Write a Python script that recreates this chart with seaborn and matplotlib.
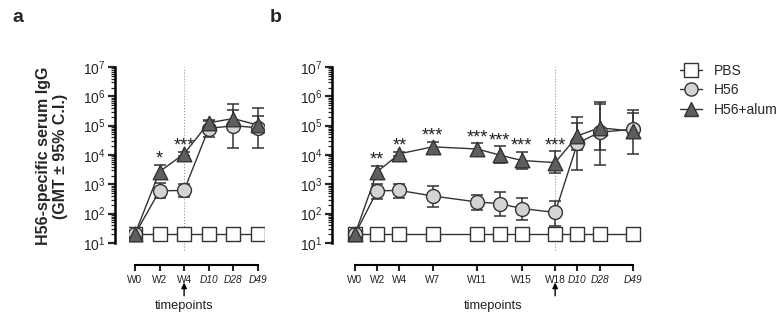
import numpy as np
import pandas as pd
import matplotlib
matplotlib.use("Agg")
import matplotlib.pyplot as plt
import matplotlib.transforms as mtrans
from matplotlib.lines import Line2D
from matplotlib.ticker import LogLocator, NullFormatter
import seaborn as sns

sns.set_theme(style="ticks")
plt.rcParams['font.family'] = ['Liberation Sans', 'DejaVu Sans']

# ---------------- data ----------------
groups = ['PBS', 'H56', 'H56+alum']

# panel a
a_x = [0, 2, 4, 6, 8, 10]
a_labels = ['W0', 'W2', 'W4', 'D10', 'D28', 'D49']
a_pbs = [20, 20, 20, 20, 20, 20]
a_h56 = [20, 600, 620, 80000, 100000, 85000]
a_h56_lo = [20, 330, 360, 40000, 18000, 17000]
a_h56_hi = [20, 1100, 1050, 150000, 340000, 390000]
a_alum = [20, 2700, 11000, 125000, 175000, 105000]
a_alum_lo = [20, 1800, 9000, 100000, 100000, 66000]
a_alum_hi = [20, 4600, 13000, 160000, 530000, 210000]
a_star_x = [2, 4]
a_stars = ['*', '***']

# panel b
b_x = [0, 2, 4, 7, 11, 13, 15, 18, 20, 22, 25]
b_tick_x = [0, 2, 4, 7, 11, 15, 18, 20, 22, 25]
b_labels = ['W0', 'W2', 'W4', 'W7', 'W11', 'W15', 'W18', 'D10', 'D28', 'D49']
b_pbs = [20] * 11
b_h56 = [20, 600, 620, 400, 250, 220, 150, 110, 25000, 60000, 75000]
b_h56_lo = [20, 320, 350, 170, 130, 85, 60, 38, 3000, 4600, 10500]
b_h56_hi = [20, 1050, 1050, 900, 450, 550, 330, 280, 120000, 540000, 340000]
b_alum = [20, 2700, 11000, 19000, 16000, 10000, 6500, 5500, 45000, 85000, 65000]
b_alum_lo = [20, 1800, 9000, 13000, 11000, 5500, 3300, 2500, 15000, 15000, 37000]
b_alum_hi = [20, 4300, 13000, 28000, 25000, 20000, 13000, 13500, 190000, 660000, 260000]
b_star_x = [2, 4, 7, 11, 13, 15, 18]
b_stars = ['**', '**', '***', '***', '***', '***', '***']

# ---------------- style ----------------
face = {'PBS': 'white', 'H56': '#d4d4d4', 'H56+alum': '#5e5e5e'}
mark = {'PBS': 's', 'H56': 'o', 'H56+alum': '^'}
edge = '#333333'

fig = plt.figure(figsize=(7.8, 3.2), dpi=100)
axA = fig.add_axes([128.8 / 780, 77 / 320, 135.2 / 780, 176 / 320])
axB = fig.add_axes([346.1 / 780, 77 / 320, 295.8 / 780, 176 / 320])


def build_df(x, pbs, h56, alum):
    rows = []
    for g, vals in zip(groups, [pbs, h56, alum]):
        for xi, v in zip(x, vals):
            rows.append({'x': xi, 'val': v, 'group': g})
    return pd.DataFrame(rows)


def draw(ax, x, pbs, h56, h56_lo, h56_hi, alum, alum_lo, alum_hi,
         ticks, labels, star_x, stars, arrow_x, tp_x, xlim):
    df = build_df(x, pbs, h56, alum)
    # dotted boost line
    ax.axvline(arrow_x, ymin=-0.04, ymax=1.0, color='#999999', lw=0.8, ls=':',
               zorder=0, clip_on=False)
    # error bars
    for vals, lo, hi, z in [(h56, h56_lo, h56_hi, 2), (alum, alum_lo, alum_hi, 3)]:
        v = np.array(vals, float)
        err = np.vstack([v - np.array(lo, float), np.array(hi, float) - v])
        ax.errorbar(x, v, yerr=err, fmt='none', ecolor=edge, elinewidth=1.1,
                    capsize=4.2, capthick=1.1, zorder=z)
    # lines
    sns.lineplot(data=df, x='x', y='val', hue='group', units='group',
                 estimator=None, palette={g: edge for g in groups},
                 lw=1.0, legend=False, ax=ax, zorder=4)
    # markers
    for i, g in enumerate(groups):
        sub = df[df.group == g]
        sns.scatterplot(data=sub, x='x', y='val', marker=mark[g],
                        color=face[g], edgecolor=edge, linewidth=1.0,
                        s=100 if g != 'H56+alum' else 110,
                        legend=False, ax=ax, zorder=5 + i)
    ax.set_yscale('log')
    ax.set_ylim(10, 1e7)
    ax.set_xlim(*xlim)
    for s in ['top', 'right']:
        ax.spines[s].set_visible(False)
    ax.spines['left'].set_position(('outward', 10))
    ax.spines['bottom'].set_position(('outward', 16))
    ax.spines['left'].set_linewidth(1.8)
    ax.spines['bottom'].set_linewidth(1.5)
    ax.spines['left'].set_color('black')
    ax.spines['bottom'].set_color('black')
    ax.yaxis.set_major_locator(LogLocator(base=10, numticks=10))
    ax.yaxis.set_minor_locator(LogLocator(base=10, subs=np.arange(2, 10), numticks=20))
    ax.yaxis.set_minor_formatter(NullFormatter())
    ax.set_xticks(ticks)
    ax.set_xticklabels(labels)
    ax.tick_params(axis='x', labelsize=7.3, length=4, width=1.5, colors='#222222', pad=3)
    ax.tick_params(axis='y', which='major', labelsize=10, length=5, width=1.6, pad=2)
    ax.tick_params(axis='y', which='minor', length=3, width=0.9)
    for t, lab in zip(ax.get_xticklabels(), labels):
        if lab.startswith('D'):
            t.set_fontstyle('italic')
    ax.spines['bottom'].set_bounds(ticks[0], ticks[-1])
    ax.set_xlabel('')
    ax.set_ylabel('')
    # stars
    for sx, st in zip(star_x, stars):
        idx = x.index(sx)
        ax.annotate(st, (sx, alum_hi[idx]), xytext=(0, 4),
                    textcoords='offset points', ha='center', va='center',
                    fontsize=13, color='#222222')
    # arrow + timepoints
    tr = mtrans.blended_transform_factory(ax.transData, ax.transAxes)
    ax.annotate('', xy=(arrow_x, -0.225), xytext=(arrow_x, -0.30),
                xycoords=tr, textcoords=tr,
                arrowprops=dict(arrowstyle='-|>', color='black', lw=1.0,
                                mutation_scale=8, shrinkA=0, shrinkB=0))
    ax.text(tp_x, -0.36, 'timepoints', transform=tr, ha='center', va='center',
            fontsize=9.3, color='#222222')


draw(axA, a_x, a_pbs, a_h56, a_h56_lo, a_h56_hi, a_alum, a_alum_lo, a_alum_hi,
     a_x, a_labels, a_star_x, a_stars, 4, 4, (-0.5, 10.5))
draw(axB, b_x, b_pbs, b_h56, b_h56_lo, b_h56_hi, b_alum, b_alum_lo, b_alum_hi,
     b_tick_x, b_labels, b_star_x, b_stars, 18, 12.4, (-0.8, 25.8))

# y label
fig.text(52 / 780, 1 - 156 / 320, 'H56-specific serum IgG\n(GMT \u00b1 95% C.I.)',
         rotation=90, ha='center', va='center', fontsize=11.5,
         fontweight='bold', linespacing=1.1)

# panel letters
fig.text(18 / 780, 1 - 18 / 320, 'a', fontsize=14, fontweight='bold', ha='center', va='center')
fig.text(276 / 780, 1 - 18 / 320, 'b', fontsize=14, fontweight='bold', ha='center', va='center')

# legend
handles = [Line2D([0], [0], color=edge, lw=1.0, marker=mark[g], markersize=9.5,
                  markerfacecolor=face[g], markeredgecolor=edge, markeredgewidth=1.0)
           for g in groups]
fig.legend(handles, groups, loc='upper left', bbox_to_anchor=(674 / 780, 1 - 58 / 320),
           frameon=False, fontsize=10, handlelength=1.6, handletextpad=0.9,
           labelspacing=0.4, borderaxespad=0)

fig.savefig('out.png', dpi=100)
